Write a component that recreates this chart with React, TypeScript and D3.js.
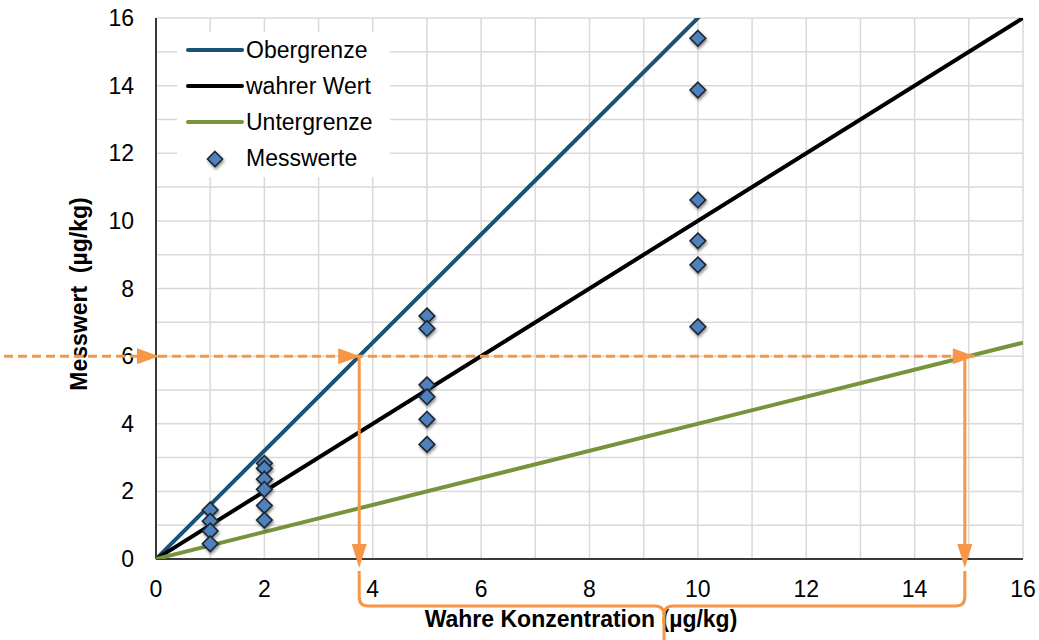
import React from "react";
import * as d3 from "d3";

const xTicks = [0, 2, 4, 6, 8, 10, 12, 14, 16];
const yTicks = [0, 2, 4, 6, 8, 10, 12, 14, 16];
const gridValues = d3.range(0, 17, 1);

const upperSlope = 1.6;
const trueSlope = 1.0;
const lowerSlope = 0.4;

const measX = [1, 1, 1, 1, 2, 2, 2, 2, 2, 2, 5, 5, 5, 5, 5, 5, 10, 10, 10, 10, 10, 10];
const measY = [1.45, 1.12, 0.83, 0.45, 2.83, 2.68, 2.36, 2.06, 1.58, 1.15, 7.19, 6.82, 5.15, 4.8, 4.13, 3.39, 15.4, 13.87, 10.62, 9.41, 8.7, 6.87];

const readingY = 6;

const legendNames = ["Obergrenze", "wahrer Wert", "Untergrenze", "Messwerte"];

const W = 1039;
const H = 640;
const M = { left: 156, right: 16, top: 18, bottom: 81 };

export default function App() {
  const x = d3.scaleLinear().domain([0, 16]).range([M.left, W - M.right]);
  const y = d3.scaleLinear().domain([0, 16]).range([H - M.bottom, M.top]);
  const font = "'Liberation Sans', Arial, sans-serif";
  const fs = 23;
  const orange = "#F79646";
  const colors = ["#1A5276", "#000000", "#77933C"];
  const slopes = [upperSlope, trueSlope, lowerSlope];

  const line = d3.line<[number, number]>().x((d) => x(d[0])).y((d) => y(d[1]));
  const diamond = (cx: number, cy: number, r: number) =>
    `M${cx},${cy - r}L${cx + r},${cy}L${cx},${cy + r}L${cx - r},${cy}Z`;

  const xA = x(readingY / upperSlope);
  const xB = x(readingY / lowerSlope);
  const yR = y(readingY);
  const y0 = y(0);
  const notch = (xA + xB) / 2;
  const bY = 606;
  const rr = 9;

  const arrowRight = (tx: number, ty: number) =>
    `M${tx},${ty}L${tx - 22},${ty - 8}L${tx - 22},${ty + 8}Z`;
  const arrowDown = (tx: number, ty: number) =>
    `M${tx},${ty}L${tx - 7.5},${ty - 24}L${tx + 7.5},${ty - 24}Z`;

  return (
    <div style={{ position: "absolute", left: 0, top: 0 }}>
      <svg width={W} height={H} style={{ display: "block", background: "#fff" }}>
        <defs>
          <clipPath id="plot">
            <rect x={M.left} y={M.top} width={W - M.left - M.right} height={H - M.top - M.bottom} />
          </clipPath>
          <filter id="shadow" x="-50%" y="-50%" width="200%" height="200%">
            <feDropShadow dx="1" dy="2" stdDeviation="1.5" floodColor="#000" floodOpacity="0.45" />
          </filter>
        </defs>

        {/* grid */}
        {gridValues.map((v) => (
          <line key={"gx" + v} x1={x(v)} x2={x(v)} y1={y(0)} y2={y(16)} stroke="#d9d9d9" strokeWidth={1.5} />
        ))}
        {gridValues.map((v) => (
          <line key={"gy" + v} x1={x(0)} x2={x(16)} y1={y(v)} y2={y(v)} stroke="#d9d9d9" strokeWidth={1.5} />
        ))}

        {/* legend background */}
        <rect x={177} y={32} width={213} height={145} fill="#fff" />

        {/* axes */}
        <line x1={x(0)} x2={x(0)} y1={y(0)} y2={y(16)} stroke="#000" strokeWidth={1.5} />
        <line x1={x(0)} x2={x(16)} y1={y(0)} y2={y(0)} stroke="#000" strokeWidth={1.5} />

        {/* lines */}
        <g clipPath="url(#plot)">
          {slopes.map((s, i) => (
            <path
              key={"l" + i}
              d={line([[0, 0], [16, 16 * s]]) || ""}
              fill="none"
              stroke={colors[i]}
              strokeWidth={4}
            />
          ))}
        </g>

        {/* points */}
        <g filter="url(#shadow)">
          {measX.map((mx, i) => (
            <path key={"p" + i} d={diamond(x(mx), y(measY[i]), 7.8)} fill="#4F81BD" stroke="#1c2733" strokeWidth={1.6} />
          ))}
        </g>

        {/* tick labels */}
        {xTicks.map((t) => (
          <text key={"xt" + t} x={x(t)} y={597} textAnchor="middle" fontFamily={font} fontSize={fs} fill="#000">
            {t}
          </text>
        ))}
        {yTicks.map((t) => (
          <text key={"yt" + t} x={134} y={y(t) + 8} textAnchor="end" fontFamily={font} fontSize={fs} fill="#000">
            {t}
          </text>
        ))}

        {/* axis titles */}
        <text x={581} y={627} textAnchor="middle" fontFamily={font} fontSize={fs} fontWeight="bold" fill="#000">
          Wahre Konzentration (µg/kg)
        </text>
        <text
          transform={`translate(87,${294}) rotate(-90)`}
          textAnchor="middle"
          fontFamily={font}
          fontSize={fs}
          fontWeight="bold"
          fill="#000"
          style={{ whiteSpace: "pre" }}
        >
          {"Messwert  (µg/kg)"}
        </text>

        {/* legend */}
        {legendNames.map((n, i) => {
          const ly = 50 + i * 36;
          return (
            <g key={"lg" + i}>
              {i < 3 ? (
                <line x1={188} x2={242} y1={ly} y2={ly} stroke={colors[i]} strokeWidth={4} strokeLinecap="round" />
              ) : (
                <path d={diamond(215, ly + 1, 7.5)} fill="#4F81BD" stroke="#1c2733" strokeWidth={1.6} filter="url(#shadow)" />
              )}
              <text x={246} y={ly + 8} fontFamily={font} fontSize={fs} fill="#000">
                {n}
              </text>
            </g>
          );
        })}

        {/* orange annotation */}
        <line x1={4} x2={xB + 6} y1={yR} y2={yR} stroke={orange} strokeWidth={3} strokeDasharray="9,5" />
        <path d={arrowRight(x(0) + 3, yR)} fill={orange} />
        <path d={arrowRight(xA + 1, yR)} fill={orange} />
        <path d={arrowRight(xB + 6, yR)} fill={orange} />
        <line x1={xA} x2={xA} y1={yR} y2={y0 + 4} stroke={orange} strokeWidth={3} />
        <line x1={xB - 4} x2={xB - 4} y1={yR} y2={y0 + 4} stroke={orange} strokeWidth={3} />
        <path d={arrowDown(xA, y0 + 9)} fill={orange} />
        <path d={arrowDown(xB - 4, y0 + 9)} fill={orange} />
        <path
          d={`M${xA},571 L${xA},${bY - rr} Q${xA},${bY} ${xA + rr},${bY} L${notch - rr},${bY} Q${notch},${bY} ${notch},${bY + rr} L${notch},${H}`}
          fill="none"
          stroke={orange}
          strokeWidth={3}
        />
        <path
          d={`M${xB - 4},571 L${xB - 4},${bY - rr} Q${xB - 4},${bY} ${xB - 4 - rr},${bY} L${notch + rr},${bY} Q${notch},${bY} ${notch},${bY + rr}`}
          fill="none"
          stroke={orange}
          strokeWidth={3}
        />
      </svg>
    </div>
  );
}
